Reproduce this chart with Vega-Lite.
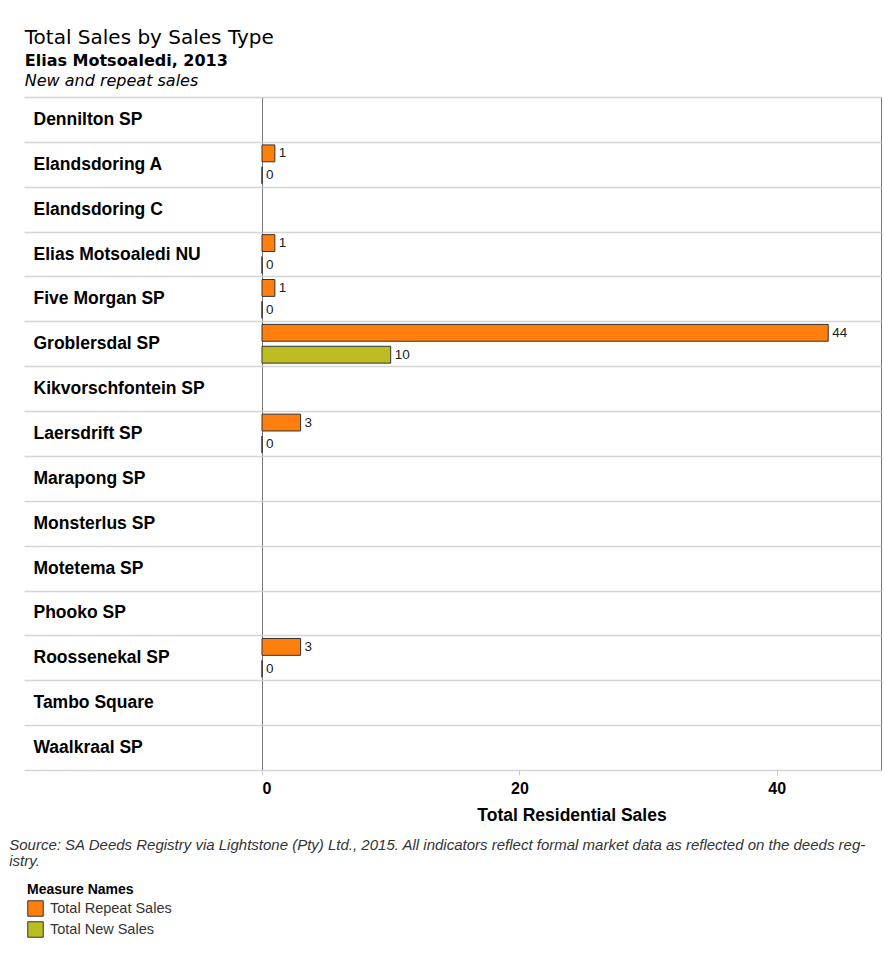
{
  "$schema": "https://vega.github.io/schema/vega-lite/v6.json",
  "padding": {"left": 8, "top": 27, "right": 3, "bottom": 5},
  "background": "white",
  "title": {
    "text": "Total Sales by Sales Type",
    "subtitle": "Elias Motsoaledi, 2013",
    "anchor": "start",
    "dx": 16,
    "font": "DejaVu Sans",
    "fontSize": 20,
    "fontWeight": "normal",
    "color": "#000000",
    "subtitleFont": "DejaVu Sans",
    "subtitleFontSize": 16,
    "subtitleFontWeight": "bold",
    "subtitleColor": "#000000",
    "subtitlePadding": 5,
    "offset": 4
  },
  "datasets": {
    "sales": [
      {"Region": "Elandsdoring A", "Measure": "Total Repeat Sales", "Sales": 1},
      {"Region": "Elandsdoring A", "Measure": "Total New Sales", "Sales": 0},
      {"Region": "Elias Motsoaledi NU", "Measure": "Total Repeat Sales", "Sales": 1},
      {"Region": "Elias Motsoaledi NU", "Measure": "Total New Sales", "Sales": 0},
      {"Region": "Five Morgan SP", "Measure": "Total Repeat Sales", "Sales": 1},
      {"Region": "Five Morgan SP", "Measure": "Total New Sales", "Sales": 0},
      {"Region": "Groblersdal SP", "Measure": "Total Repeat Sales", "Sales": 44},
      {"Region": "Groblersdal SP", "Measure": "Total New Sales", "Sales": 10},
      {"Region": "Laersdrift SP", "Measure": "Total Repeat Sales", "Sales": 3},
      {"Region": "Laersdrift SP", "Measure": "Total New Sales", "Sales": 0},
      {"Region": "Roossenekal SP", "Measure": "Total Repeat Sales", "Sales": 3},
      {"Region": "Roossenekal SP", "Measure": "Total New Sales", "Sales": 0}
    ]
  },
  "config": {
    "view": {"stroke": "#777777", "strokeWidth": 1},
    "legend": {
      "orient": "none",
      "legendX": -235,
      "legendY": 786,
      "padding": 0,
      "direction": "vertical",
      "titleFont": "Liberation Sans",
      "titleFontSize": 14,
      "titleFontWeight": "bold",
      "titleColor": "#000000",
      "labelFont": "Liberation Sans",
      "labelFontSize": 14.5,
      "labelColor": "#333333",
      "labelOffset": 6,
      "symbolType": "square",
      "symbolSize": 240,
      "symbolStrokeColor": "#333333",
      "symbolStrokeWidth": 1,
      "rowPadding": 0,
      "titlePadding": 3
    }
  },
  "vconcat": [
    {
      "title": {
        "text": "New and repeat sales",
        "anchor": "start",
        "dx": 16,
        "font": "DejaVu Sans",
        "fontSize": 16,
        "fontStyle": "italic",
        "fontWeight": "normal",
        "color": "#000000",
        "offset": -1
      },
      "vconcat": [
        {
          "width": 619,
          "height": 673,
          "title": {
            "text": [
              "Source: SA Deeds Registry via Lightstone (Pty) Ltd., 2015. All indicators reflect formal market data as reflected on the deeds reg-",
              "istry."
            ],
            "orient": "bottom",
            "anchor": "start",
            "dx": -14,
            "font": "Liberation Sans",
            "fontSize": 15,
            "fontStyle": "italic",
            "fontWeight": "normal",
            "color": "#333333",
            "lineHeight": 16,
            "offset": 14
          },
          "data": {"name": "sales"},
          "encoding": {
            "y": {
              "field": "Region",
              "type": "nominal",
              "scale": {
                "domain": [
                  "Dennilton SP",
                  "Elandsdoring A",
                  "Elandsdoring C",
                  "Elias Motsoaledi NU",
                  "Five Morgan SP",
                  "Groblersdal SP",
                  "Kikvorschfontein SP",
                  "Laersdrift SP",
                  "Marapong SP",
                  "Monsterlus SP",
                  "Motetema SP",
                  "Phooko SP",
                  "Roossenekal SP",
                  "Tambo Square",
                  "Waalkraal  SP"
                ],
                "paddingInner": 0,
                "paddingOuter": 0
              },
              "axis": {
                "title": null,
                "domain": false,
                "tickBand": "extent",
                "ticks": true,
                "tickSize": 238,
                "tickColor": "#d4d4d4",
                "tickWidth": 1.5,
                "grid": true,
                "gridColor": "#d4d4d4",
                "gridWidth": 1.5,
                "labelAlign": "left",
                "labelPadding": -9,
                "labelFont": "Liberation Sans",
                "labelFontSize": 17.5,
                "labelFontWeight": "bold",
                "labelColor": "#000000",
                "labelLimit": 230
              }
            },
            "yOffset": {
              "field": "Measure",
              "type": "nominal",
              "sort": ["Total Repeat Sales", "Total New Sales"],
              "scale": {"paddingInner": 0.23, "paddingOuter": 0.14}
            },
            "x": {
              "field": "Sales",
              "type": "quantitative",
              "scale": {"domain": [0, 48.1], "nice": false, "zero": true},
              "axis": {
                "title": "Total Residential Sales",
                "titleFont": "Liberation Sans",
                "titleFontSize": 17.5,
                "titleFontWeight": "bold",
                "titleColor": "#000000",
                "titlePadding": 10,
                "values": [0, 20, 40],
                "grid": false,
                "domain": false,
                "ticks": true,
                "tickSize": 5,
                "tickColor": "#cccccc",
                "labelFont": "Liberation Sans",
                "labelFontSize": 16,
                "labelFontWeight": "bold",
                "labelColor": "#000000",
                "labelPadding": 5
              }
            }
          },
          "layer": [
            {
              "mark": {"type": "bar", "stroke": "#333333", "strokeWidth": 1},
              "encoding": {
                "color": {
                  "field": "Measure",
                  "type": "nominal",
                  "title": "Measure Names",
                  "scale": {
                    "domain": ["Total Repeat Sales", "Total New Sales"],
                    "range": ["#ff7f0e", "#bcbd22"]
                  }
                }
              }
            },
            {
              "mark": {
                "type": "text",
                "align": "left",
                "baseline": "middle",
                "dx": 4,
                "font": "Liberation Sans",
                "fontSize": 13.5,
                "color": "#222222"
              },
              "encoding": {
                "text": {"field": "Sales", "type": "quantitative"}
              }
            }
          ]
        }
      ]
    }
  ]
}
